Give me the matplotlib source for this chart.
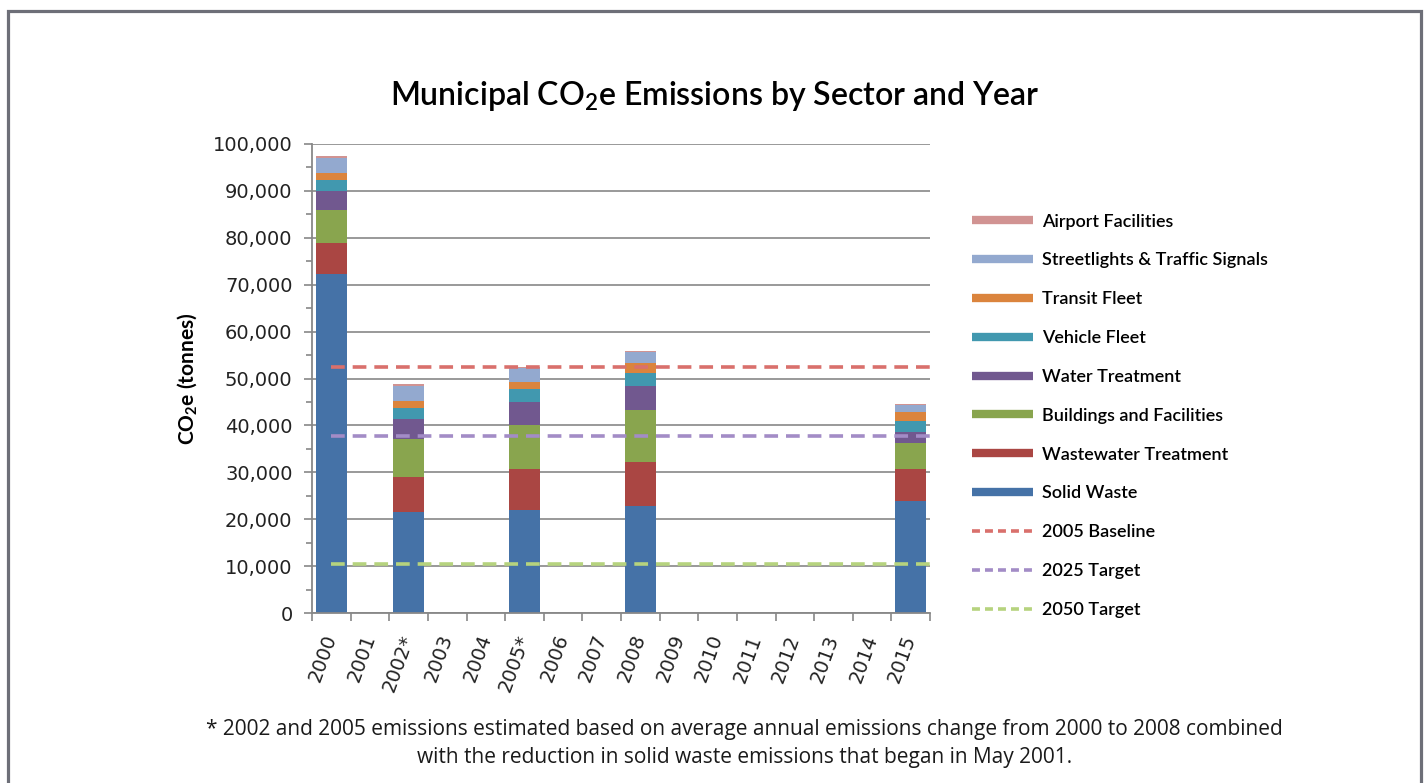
import matplotlib
matplotlib.use("Agg")
import matplotlib.pyplot as plt
import matplotlib.ticker as ticker
from matplotlib.lines import Line2D
from matplotlib.patches import Rectangle

# category axis, one slot per year
years = ["2000", "2001", "2002*", "2003", "2004", "2005*", "2006", "2007",
         "2008", "2009", "2010", "2011", "2012", "2013", "2014", "2015"]
bar_years = ["2000", "2002*", "2005*", "2008", "2015"]

# tonnes CO2e per sector, in stacking order (bottom first)
solid_waste = [72200, 21600, 22000, 22800, 23900]
wastewater = [6700, 7500, 8700, 9450, 6750]
buildings = [7100, 8000, 9450, 11000, 5550]
water = [3900, 4250, 4850, 5200, 2350]
vehicle_fleet = [2350, 2350, 2750, 2750, 2400]
transit_fleet = [1650, 1600, 1600, 2000, 2000]
streetlights = [3200, 3200, 2850, 2400, 1300]
airport = [350, 300, 150, 300, 300]

baseline_2005 = 52500
target_2025 = 37800
target_2050 = 10500

sectors = [
    ("Solid Waste", solid_waste, "#4572a7"),
    ("Wastewater Treatment", wastewater, "#aa4643"),
    ("Buildings and Facilities", buildings, "#89a54e"),
    ("Water Treatment", water, "#71588f"),
    ("Vehicle Fleet", vehicle_fleet, "#4198af"),
    ("Transit Fleet", transit_fleet, "#db843d"),
    ("Streetlights & Traffic Signals", streetlights, "#93a9cf"),
    ("Airport Facilities", airport, "#d19392"),
]
targets = [
    ("2005 Baseline", baseline_2005, "#d9706c"),
    ("2025 Target", target_2025, "#a38cc6"),
    ("2050 Target", target_2050, "#b6d37e"),
]

fig = plt.figure(figsize=(14.24, 7.83), dpi=100)
ax = fig.add_axes([0.2191, 0.2171, 0.4340, 0.5990])

xpos = [years.index(y) for y in bar_years]
bottom = [0] * len(bar_years)
for name, vals, color in sectors:
    ax.bar(xpos, vals, width=0.8, bottom=bottom, color=color, zorder=2)
    bottom = [b + v for b, v in zip(bottom, vals)]

for name, val, color in targets:
    ax.plot([0, len(years) - 0.5], [val, val], color=color, lw=2.6,
            ls=(0, (3.8, 2.2)), zorder=3)

ax.set_xlim(-0.5, len(years) - 0.5)
ax.set_ylim(0, 100000)

ax.yaxis.set_major_locator(ticker.MultipleLocator(10000))
ax.yaxis.set_minor_locator(ticker.MultipleLocator(5000))
ax.yaxis.set_major_formatter(ticker.FuncFormatter(lambda v, p: f"{int(v):,}"))
ax.grid(axis="y", color="#888888", lw=1.2, zorder=0)
ax.tick_params(axis="y", which="major", length=6, width=1.2, color="#888888",
               labelsize=14, labelcolor="#222222", pad=8)
ax.tick_params(axis="y", which="minor", length=4, width=1.2, color="#888888")

ax.set_xticks(range(len(years)))
ax.set_xticklabels(years, rotation=70, ha="right", va="center",
                   rotation_mode="anchor")
ax.xaxis.set_minor_locator(ticker.FixedLocator(
    [i - 0.5 for i in range(len(years) + 1)]))
ax.tick_params(axis="x", which="major", length=0, labelsize=14,
               labelcolor="#222222", pad=16)
ax.tick_params(axis="x", which="minor", length=6, width=1.2, color="#888888")

for side in ("top", "right"):
    ax.spines[side].set_visible(False)
for side in ("left", "bottom"):
    ax.spines[side].set_color("#888888")
    ax.spines[side].set_linewidth(1.3)

ax.set_ylabel(r"$\mathregular{CO_2}$e (tonnes)", family="Lato",
              fontweight="bold", fontsize=15, labelpad=10)

fig.text(0.502, 0.878, r"Municipal $\mathregular{CO_2}$e Emissions by Sector and Year",
         family="Lato", fontweight="semibold", fontsize=23,
         ha="center", va="center")

handles = [Line2D([], [], color=c, lw=6, solid_capstyle="butt")
           for _, _, c in reversed(sectors)]
handles += [Line2D([], [], color=c, lw=2.6, ls=(0, (2.2, 1.4)))
            for _, _, c in targets]
labels = [n for n, _, _ in reversed(sectors)] + [n for n, _, _ in targets]
fig.legend(handles, labels, loc="upper left", bbox_to_anchor=(0.671, 0.748),
           frameon=False, handlelength=3.4, handletextpad=0.5,
           labelspacing=1.265, prop={"family": "Lato", "weight": "semibold",
                                     "size": 13})

fig.text(0.523, 0.050,
         "* 2002 and 2005 emissions estimated based on average annual emissions "
         "change from 2000 to 2008 combined\nwith the reduction in solid waste "
         "emissions that began in May 2001.",
         family="Open Sans", fontsize=15, ha="center", va="center",
         linespacing=1.45, color="#1a1a1a")

# grey frame around the figure
fig.patches.append(Rectangle((8 / 1424, -0.05), 1413 / 1424, 1.036,
                             transform=fig.transFigure, fill=False,
                             edgecolor="#6d6f78", lw=2.3))

fig.savefig("out.png", dpi=100)
